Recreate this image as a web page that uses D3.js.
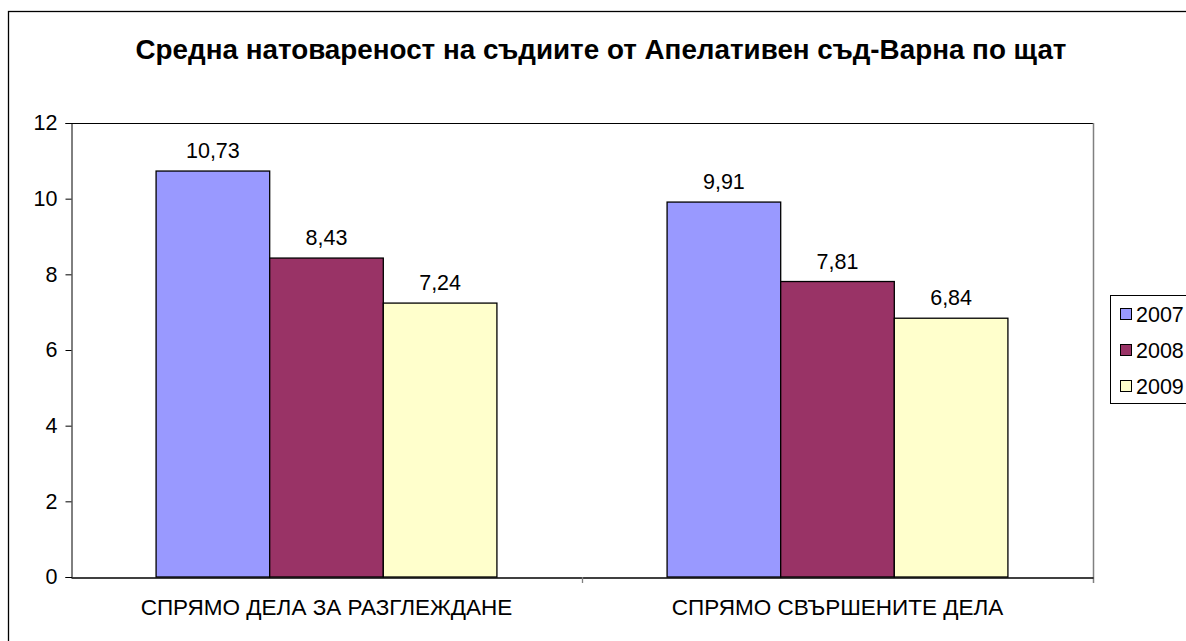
<!DOCTYPE html>
<html><head><meta charset="utf-8">
<script src="https://cdn.jsdelivr.net/npm/d3@7"></script>
<style>body{margin:0;background:#fff}svg{display:block;font-family:"Liberation Sans",Arial,sans-serif}</style>
</head><body><svg id="c" width="1186" height="641"></svg>
<script>
const title = "Средна натовареност на съдиите от Апелативен съд-Варна по щат";
const categories = ["СПРЯМО ДЕЛА ЗА РАЗГЛЕЖДАНЕ", "СПРЯМО СВЪРШЕНИТЕ ДЕЛА"];
const seriesNames = ["2007", "2008", "2009"];
const values2007 = [10.73, 9.91];
const values2008 = [8.43, 7.81];
const values2009 = [7.24, 6.84];
const yTicks = [0, 2, 4, 6, 8, 10, 12];
const colors = ["#9999FF", "#993366", "#FFFFCC"];
const seriesValues = [values2007, values2008, values2009];

const svg = d3.select("#c");
const L = 71, R = 1093, T = 123, B = 577;
const FS = 21.5;

svg.append("rect").attr("x", 8.5).attr("y", 11.5).attr("width", 1200).attr("height", 700)
  .attr("fill", "#fff").attr("stroke", "#000").attr("stroke-width", 1.3);

svg.append("text").attr("x", 601).attr("y", 59).attr("text-anchor", "middle")
  .attr("font-size", 27.8).attr("font-weight", "bold").text(title);

const x0 = d3.scaleBand().domain(categories).range([L, R]).paddingInner(0).paddingOuter(0);
const x1 = d3.scaleBand().domain(seriesNames)
  .range([x0.bandwidth() * 0.1665, x0.bandwidth() * 0.8335]).paddingInner(0).paddingOuter(0);
const y = d3.scaleLinear().domain([0, 12]).range([B, T]);

svg.append("line").attr("x1", L).attr("x2", R).attr("y1", T + 0.5).attr("y2", T + 0.5).attr("stroke", "#000");
svg.append("line").attr("x1", R + 0.5).attr("x2", R + 0.5).attr("y1", T).attr("y2", B + 6).attr("stroke", "#808080").attr("stroke-width", 1.5);

categories.forEach((c, ci) => {
  seriesNames.forEach((s, si) => {
    const v = seriesValues[si][ci];
    const bx = x0(c) + x1(s);
    svg.append("rect").attr("x", bx).attr("y", y(v)).attr("width", x1.bandwidth()).attr("height", B - y(v))
      .attr("fill", colors[si]).attr("stroke", "#000").attr("stroke-width", 1.3);
    svg.append("text").attr("x", bx + x1.bandwidth() / 2).attr("y", y(v) - 13)
      .attr("text-anchor", "middle").attr("font-size", FS).text(String(v).replace(".", ","));
  });
});

const ya = svg.append("g").attr("transform", `translate(${L + 0.5},0)`)
  .call(d3.axisLeft(y).tickValues(yTicks).tickSize(6).tickPadding(8).tickFormat(d3.format("d")));
ya.selectAll("text").attr("font-size", FS).attr("fill", "#000").attr("font-family", "Liberation Sans, Arial, sans-serif");
ya.selectAll("line,path").attr("stroke", "#000");

const xa = svg.append("g").attr("transform", `translate(0,${B + 0.5})`)
  .call(d3.axisBottom(x0).tickSize(0).tickPadding(22));
xa.select("path").attr("stroke", "#000").attr("stroke-width", 1.3);
xa.selectAll("text").attr("font-size", 22.5).attr("fill", "#000").attr("font-family", "Liberation Sans, Arial, sans-serif");
svg.selectAll(".ctick").data([R - x0.bandwidth()]).enter().append("line")
  .attr("x1", d => d + 0.5).attr("x2", d => d + 0.5).attr("y1", B).attr("y2", B + 6).attr("stroke", "#808080").attr("stroke-width", 1.3);

const lg = svg.append("g");
lg.append("rect").attr("x", 1110.5).attr("y", 295.5).attr("width", 200).attr("height", 108)
  .attr("fill", "#fff").attr("stroke", "#000");
seriesNames.forEach((s, i) => {
  const cy = 314 + i * 36;
  lg.append("rect").attr("x", 1120.5).attr("y", cy - 5.5).attr("width", 11).attr("height", 11)
    .attr("fill", colors[i]).attr("stroke", "#000");
  lg.append("text").attr("x", 1136).attr("y", cy + 8).attr("font-size", FS).text(s);
});
</script></body></html>
